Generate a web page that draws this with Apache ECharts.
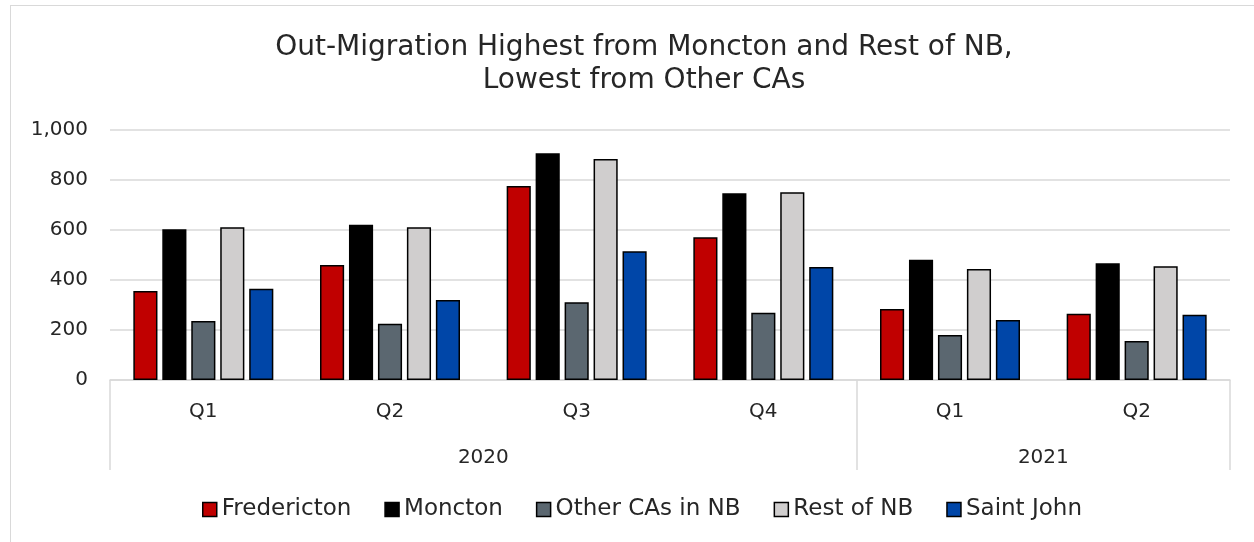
<!DOCTYPE html>
<html>
<head>
<meta charset="utf-8">
<title>Out-Migration</title>
<script src="https://cdn.jsdelivr.net/npm/echarts@6/dist/echarts.min.js"></script>
<style>
  html, body {
    margin: 0;
    padding: 0;
    background: #ffffff;
  }
  #chart {
    width: 1254px;
    height: 542px;
  }
  .frame {
    position: absolute;
    left: 10px;
    top: 5px;
    width: 1260px;
    height: 560px;
    border: 1px solid #d9d9d9;
    pointer-events: none;
  }
</style>
</head>
<body>
<div class="frame"></div>
<div id="chart"></div>
<script>
  // quarters along the x axis, grouped by year
  const quarters = ['Q1', 'Q2', 'Q3', 'Q4', 'Q1', 'Q2']
  const years = ['2020', '2021']
  const yearSpans = [4, 2]

  const fredericton = [356, 460, 776, 571, 284, 265]
  const moncton = [603, 621, 907, 747, 481, 467]
  const otherCAs = [236, 225, 311, 269, 180, 156]
  const restOfNB = [611, 611, 884, 751, 444, 455]
  const saintJohn = [365, 320, 515, 452, 240, 261]

  const yTicks = [0, 200, 400, 600, 800, 1000]

  const font = '"Century Gothic", "DejaVu Sans", sans-serif'
  const textColor = '#262626'

  // year labels sit in the middle of the quarters they span
  let yearMid = {}
  let start = 0
  years.forEach(function (y, i) {
    yearMid[start + yearSpans[i] / 2] = y
    start += yearSpans[i]
  })
  // separators at the year boundaries
  let bounds = [0]
  yearSpans.slice(0, -1).forEach(function (s) {
    bounds.push(bounds[bounds.length - 1] + s)
  })

  function bar (name, data, color) {
    return {
      name: name,
      type: 'bar',
      data: data,
      barGap: '20%',
      barCategoryGap: '25%',
      itemStyle: {
        color: color,
        borderColor: '#000000',
        borderWidth: 1.5
      }
    }
  }

  let elem = echarts.init(document.getElementById('chart'))
  let option = {
    animation: false,
    textStyle: { fontFamily: font },
    title: {
      text: 'Out-Migration Highest from Moncton and Rest of NB,\nLowest from Other CAs',
      left: 639,
      top: 26,
      textAlign: 'center',
      textStyle: {
        fontFamily: font,
        fontSize: 28,
        fontWeight: 'normal',
        color: textColor,
        lineHeight: 33
      }
    },
    legend: {
      bottom: 16,
      left: 197,
      itemWidth: 14,
      itemHeight: 14,
      itemGap: 33,
      icon: 'rect',
      textStyle: {
        fontFamily: font,
        fontSize: 23,
        color: textColor
      },
      itemStyle: {
        borderColor: '#000000',
        borderWidth: 1.5
      }
    },
    grid: {
      left: 110,
      right: 24,
      top: 130,
      bottom: 162
    },
    xAxis: [
      {
        type: 'category',
        data: quarters,
        axisLine: { lineStyle: { color: '#d9d9d9', width: 1.5 } },
        axisTick: {
          show: true,
          length: 90,
          interval: function (index) {
            return bounds.indexOf(index) >= 0
          },
          lineStyle: { color: '#d9d9d9', width: 1.5 }
        },
        axisLabel: {
          fontFamily: font,
          fontSize: 20,
          color: textColor,
          margin: 22,
          interval: 0
        }
      },
      {
        type: 'value',
        position: 'bottom',
        min: 0,
        max: quarters.length,
        interval: 0.5,
        axisLine: { show: false },
        axisTick: { show: false },
        splitLine: { show: false },
        axisLabel: {
          fontFamily: font,
          fontSize: 20,
          color: textColor,
          margin: 68,
          showMinLabel: true,
          showMaxLabel: true,
          formatter: function (v) {
            return yearMid[v] || ''
          }
        }
      }
    ],
    yAxis: {
      type: 'value',
      min: yTicks[0],
      max: yTicks[yTicks.length - 1],
      interval: yTicks[1] - yTicks[0],
      axisLine: { show: false },
      axisTick: { show: false },
      splitLine: { lineStyle: { color: '#d9d9d9', width: 1.5 } },
      axisLabel: {
        fontFamily: font,
        fontSize: 20,
        color: textColor,
        margin: 22,
        formatter: function (v) {
          return v.toLocaleString('en-US')
        }
      }
    },
    series: [
      bar('Fredericton', fredericton, '#c00000'),
      bar('Moncton', moncton, '#000000'),
      bar('Other CAs in NB', otherCAs, '#5b6770'),
      bar('Rest of NB', restOfNB, '#d0cece'),
      bar('Saint John', saintJohn, '#0046a8')
    ]
  }
  elem.setOption(option)
</script>
</body>
</html>
